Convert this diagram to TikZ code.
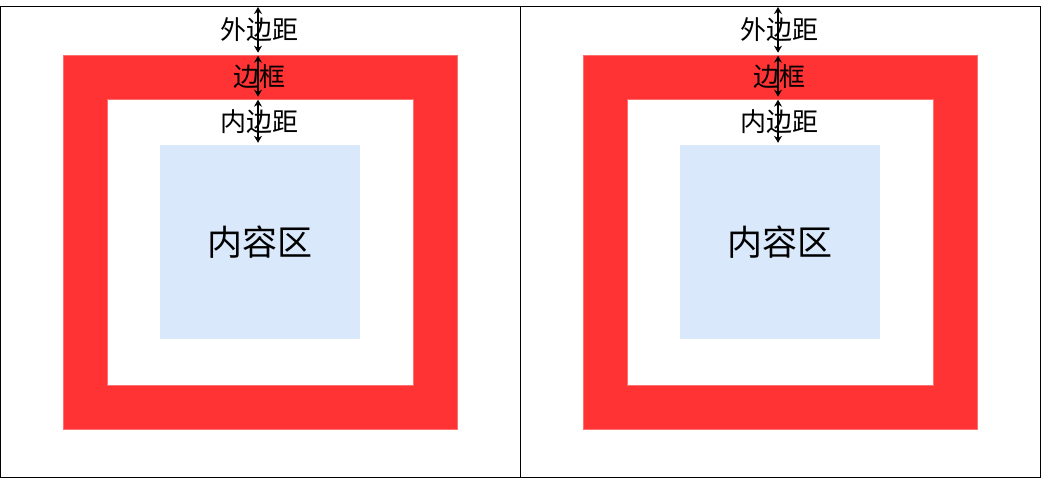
\documentclass[tikz,border=0pt]{standalone}
\usepackage{fontspec}
\newfontfamily\cjk{Noto Sans CJK SC}
\usetikzlibrary{arrows.meta}
\definecolor{bred}{HTML}{FF3333}
\definecolor{cblue}{HTML}{DAE8FC}
\tikzset{
  framebox/.style={draw=black, line width=1pt, inner sep=0pt},
  redbox/.style={fill=bred, draw=bred!70!white, line width=0.6pt, inner sep=0pt},
  whitebox/.style={fill=white, draw=bred!70!white, line width=0.6pt, inner sep=0pt},
  bluebox/.style={fill=cblue, inner sep=0pt, font=\cjk\fontsize{35}{42}\selectfont},
  lbl/.style={font=\cjk\fontsize{26}{31}\selectfont, inner sep=0pt},
  dim/.style={{Stealth[length=7pt,width=8pt]}-{Stealth[length=7pt,width=8pt]}, line width=1.2pt}
}
\begin{document}
\begin{tikzpicture}[x=1pt,y=-1pt]
\useasboundingbox (0,0) rectangle (1041,478);
\foreach \o/\n in {0/L,520/R}{
  \node[framebox, minimum width=520pt, minimum height=470pt] (frame\n) at (\o+260,242) {};
  \node[redbox, minimum width=394pt, minimum height=374pt] (red\n) at (\o+260,242) {};
  \node[whitebox, minimum width=306pt, minimum height=286pt] (white\n) at (\o+260,242) {};
  \node[bluebox, minimum width=200pt, minimum height=194pt] (blue\n) at (\o+260,242) {内容区};
  \coordinate (ax\n) at (\o+258,0);
  \draw[dim] (frame\n.north -| ax\n) ++(0,0.5) -- ([yshift=2pt]red\n.north -| ax\n);
  \draw[dim] ([yshift=-1pt]red\n.north -| ax\n) -- ([yshift=2pt]white\n.north -| ax\n);
  \draw[dim] ([yshift=-1pt]white\n.north -| ax\n) -- ([yshift=2pt]blue\n.north -| ax\n);
  \node[lbl] (m\n) at (\o+259,30) {外边距};
  \node[lbl] (b\n) at (\o+259,77) {边框};
  \node[lbl] (p\n) at (\o+259,122) {内边距};
}
\end{tikzpicture}
\end{document}
